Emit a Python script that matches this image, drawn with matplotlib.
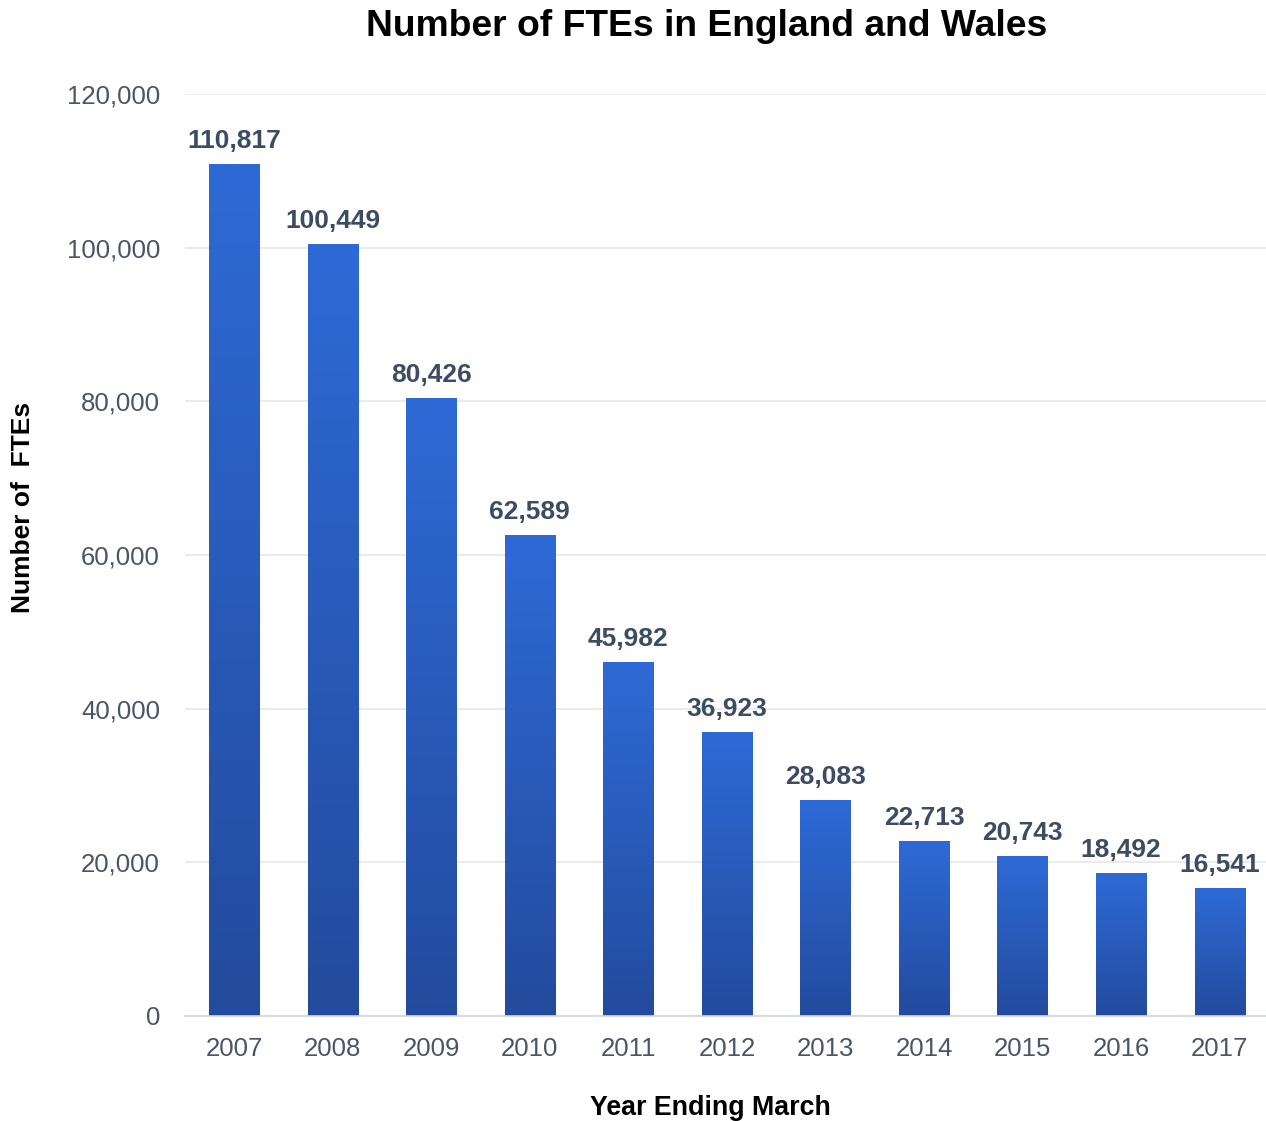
import numpy as np
import matplotlib.pyplot as plt
from matplotlib.colors import LinearSegmentedColormap

plt.rcParams['font.family'] = ['Liberation Sans', 'DejaVu Sans']

years = ['2007', '2008', '2009', '2010', '2011', '2012', '2013', '2014', '2015', '2016', '2017']
ftes = [110817, 100449, 80426, 62589, 45982, 36923, 28083, 22713, 20743, 18492, 16541]
yticks = [0, 20000, 40000, 60000, 80000, 100000, 120000]

fig = plt.figure(figsize=(12.66, 11.21), dpi=100)
ax = fig.add_axes([0.1461, 0.0937, 0.8539, 0.8224])

# dark at the base, lighter blue at the top of each bar
cmap = LinearSegmentedColormap.from_list('bar', ['#234B9D', '#2E6AD6'])
grad = np.linspace(0, 1, 256).reshape(-1, 1)
w = 0.51
x = np.arange(len(years))
for xi, v in zip(x, ftes):
    ax.imshow(grad, extent=[xi - w / 2, xi + w / 2, 0, v], origin='lower',
              aspect='auto', cmap=cmap, zorder=2)
    ax.text(xi, v + 1500, f'{v:,}', ha='center', va='bottom',
            fontsize=19, fontweight='bold', color='#3E4C63', zorder=3)

ax.set_xlim(-0.5, 10.47)
ax.set_ylim(0, 120000)
ax.set_yticks(yticks)
ax.set_yticklabels([f'{t:,}' for t in yticks])
ax.set_xticks(x)
ax.set_xticklabels(years)
ax.tick_params(axis='both', length=0, labelsize=18.5, labelcolor='#4A5568')
ax.tick_params(axis='y', pad=18)
ax.tick_params(axis='x', pad=15)

ax.grid(axis='y', color='#E6E6E6', linewidth=1.1, zorder=0)
ax.set_axisbelow(True)
for s in ['top', 'right', 'left']:
    ax.spines[s].set_visible(False)
ax.spines['bottom'].set_color('#CCD6EB')
ax.spines['bottom'].set_linewidth(1.2)

fig.text(0.5585, 0.9765, 'Number of FTEs in England and Wales', ha='center', va='center',
         fontsize=26.8, fontweight='bold', color='black')
fig.text(0.561, 0.0115, 'Year Ending March', ha='center', va='center',
         fontsize=19.3, fontweight='bold', color='black')
fig.text(0.0185, 0.547, 'Number of  FTEs', ha='center', va='center', rotation=90,
         fontsize=19, fontweight='bold', color='black')

fig.savefig('out.png', dpi=100)
